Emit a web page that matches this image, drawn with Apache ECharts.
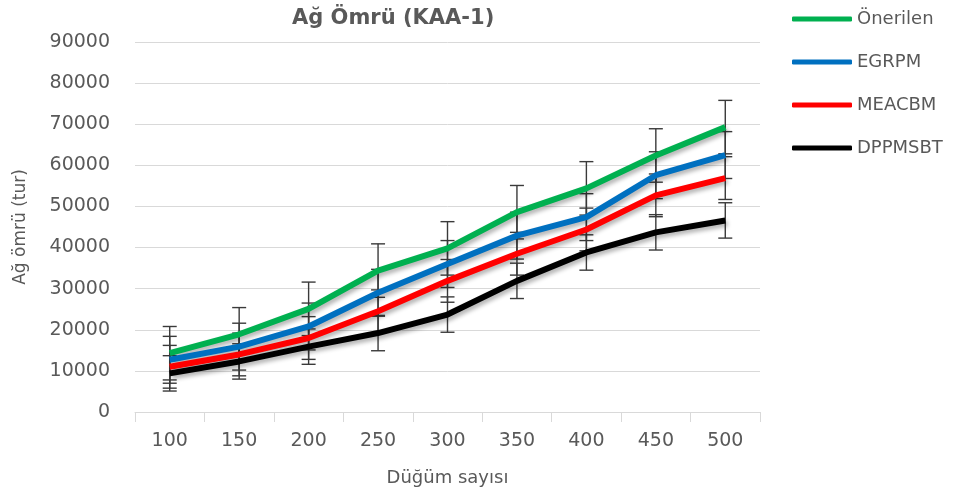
<!DOCTYPE html>
<html lang="tr">
<head>
  <meta charset="UTF-8">
  <title>Ağ Ömrü (KAA-1)</title>
  <script src="https://cdn.jsdelivr.net/npm/echarts@6/dist/echarts.min.js"></script>
  <style>
    html, body { margin: 0; padding: 0; background: #ffffff; }
    #main { width: 962px; height: 499px; }
  </style>
</head>
<body>
<div id="main"></div>
<script>
  // düğüm sayısı
  var categories = ['100', '150', '200', '250', '300', '350', '400', '450', '500'];
  // ağ ömrü (tur)
  var onerilen = [14300, 18900, 25100, 34400, 39800, 48600, 54400, 62400, 69300];
  var egrpm    = [12700, 15900, 20800, 29000, 36000, 42900, 47400, 57600, 62500];
  var meacbm   = [11000, 14000, 18000, 24500, 31900, 38500, 44400, 52700, 56900];
  var dppmsbt  = [9400, 12300, 15900, 19200, 23700, 31900, 38800, 43700, 46600];
  // error bar size per series (same for every point)
  var errOnerilen = 6500;
  var errEgrpm = 5700;
  var errMeacbm = 5200;
  var errDppmsbt = 4300;
  var yTicks = [0, 90000, 10000]; // min, max, interval

  var font = 'DejaVu Sans';
  var textColor = '#595959';

  function errData(vals, err) {
    return vals.map(function (v, i) { return [i, v - err, v + err]; });
  }

  function errRender(params, api) {
    var x = api.value(0);
    var lo = api.coord([x, api.value(1)]);
    var hi = api.coord([x, api.value(2)]);
    var w = 7;
    var st = { stroke: '#3a3a3a', lineWidth: 1.4 };
    return {
      type: 'group',
      children: [
        { type: 'line', shape: { x1: hi[0], y1: hi[1], x2: lo[0], y2: lo[1] }, style: st },
        { type: 'line', shape: { x1: hi[0] - w, y1: hi[1], x2: hi[0] + w, y2: hi[1] }, style: st },
        { type: 'line', shape: { x1: lo[0] - w, y1: lo[1], x2: lo[0] + w, y2: lo[1] }, style: st }
      ]
    };
  }

  function lineSeries(name, data, color) {
    return {
      name: name,
      type: 'line',
      data: data,
      symbol: 'none',
      z: 5,
      lineStyle: {
        color: color,
        width: 6,
        shadowColor: 'rgba(0,0,0,0.3)',
        shadowBlur: 4,
        shadowOffsetX: 2,
        shadowOffsetY: 3
      },
      itemStyle: { color: color }
    };
  }

  function errSeries(vals, err) {
    return {
      type: 'custom',
      renderItem: errRender,
      data: errData(vals, err),
      encode: { x: 0, y: [1, 2] },
      z: 2,
      silent: true
    };
  }

  var chart = echarts.init(document.getElementById('main'), null, { renderer: 'canvas' });

  var option = {
    animation: false,
    backgroundColor: '#ffffff',
    title: {
      text: 'Ağ Ömrü (KAA-1)',
      left: 287,
      top: 3,
      textStyle: { fontFamily: font, fontSize: 21, fontWeight: 'bold', color: textColor }
    },
    legend: {
      orient: 'vertical',
      left: 787,
      top: 5,
      itemWidth: 60,
      itemHeight: 5,
      itemGap: 25,
      icon: 'roundRect',
      data: ['Önerilen', 'EGRPM', 'MEACBM', 'DPPMSBT'],
      textStyle: { fontFamily: font, fontSize: 18, color: textColor }
    },
    grid: { left: 135, right: 202, top: 42, bottom: 87 },
    xAxis: {
      type: 'category',
      data: categories,
      boundaryGap: true,
      name: 'Düğüm sayısı',
      nameLocation: 'middle',
      nameGap: 57,
      nameTextStyle: { fontFamily: font, fontSize: 18, color: textColor },
      axisLine: { lineStyle: { color: '#d9d9d9', width: 1 } },
      axisTick: { show: true, alignWithLabel: false, length: 10, lineStyle: { color: '#d9d9d9' } },
      axisLabel: { fontFamily: font, fontSize: 19, color: textColor, margin: 20 },
      splitLine: { show: false }
    },
    yAxis: {
      type: 'value',
      min: yTicks[0],
      max: yTicks[1],
      interval: yTicks[2],
      name: 'Ağ ömrü (tur)',
      nameLocation: 'middle',
      nameGap: 106,
      nameTextStyle: { fontFamily: font, fontSize: 17, color: textColor },
      axisLine: { show: false },
      axisTick: { show: false },
      axisLabel: {
        fontFamily: font, fontSize: 19, color: textColor, margin: 25,
        formatter: function (v) { return String(v); }
      },
      splitLine: { lineStyle: { color: '#d9d9d9', width: 1 } }
    },
    series: [
      errSeries(onerilen, errOnerilen),
      errSeries(egrpm, errEgrpm),
      errSeries(meacbm, errMeacbm),
      errSeries(dppmsbt, errDppmsbt),
      lineSeries('Önerilen', onerilen, '#00b050'),
      lineSeries('EGRPM', egrpm, '#0070c0'),
      lineSeries('MEACBM', meacbm, '#ff0000'),
      lineSeries('DPPMSBT', dppmsbt, '#000000')
    ]
  };

  chart.setOption(option);
  window.addEventListener('resize', chart.resize);
</script>
</body>
</html>
